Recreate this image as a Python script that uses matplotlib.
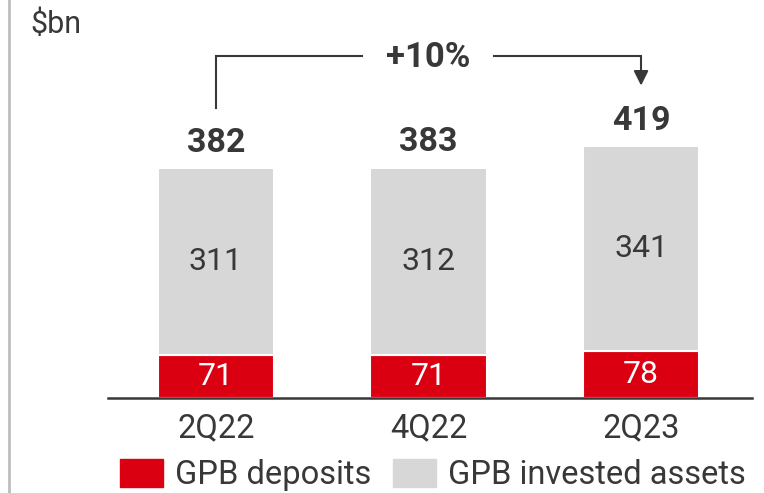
import matplotlib
matplotlib.use("Agg")
import matplotlib.pyplot as plt
from matplotlib.lines import Line2D
from matplotlib.patches import Patch
import numpy as np

quarters = ["2Q22", "4Q22", "2Q23"]
deposits = [71, 71, 78]
invested = [311, 312, 341]
totals = [382, 383, 419]
growth_label = "+10%"

red = "#DB0011"
grey = "#D7D7D7"
ink = "#383838"

plt.rcParams["font.family"] = ["Roboto", "DejaVu Sans"]

fig = plt.figure(figsize=(7.64, 4.93), dpi=100)
ax = fig.add_axes([108 / 764, 95 / 493, 644 / 764, 398 / 493])

x = np.arange(len(quarters))
width = 0.546
ax.bar(x, deposits, width, color=red, edgecolor="white", linewidth=1.5, label="GPB deposits")
ax.bar(x, invested, width, bottom=deposits, color=grey, edgecolor="white", linewidth=1.5,
       label="GPB invested assets")

for i in x:
    ax.text(i, deposits[i] / 2, str(deposits[i]), ha="center", va="center",
            color="white", fontsize=23)
    ax.text(i, deposits[i] + invested[i] / 2, str(invested[i]), ha="center", va="center",
            color=ink, fontsize=23)
    ax.text(i, totals[i] + 42, str(totals[i]), ha="center", va="center",
            color=ink, fontsize=24.5, fontweight="bold")

# growth bracket from first to last quarter
top = 569
ax.plot([0, 0, 0.687], [482, top, top], color=ink, lw=1.5, solid_joinstyle="miter")
ax.plot([1.308, 2, 2], [top, top, 530], color=ink, lw=1.5, solid_joinstyle="miter")
ax.annotate("", xy=(2, 515), xytext=(2, 535),
            arrowprops=dict(arrowstyle="-|>", color=ink, lw=1.5, mutation_scale=22))
ax.text(1.0, top - 3, growth_label, ha="center", va="center", color=ink, fontsize=25,
        fontweight="bold")

ax.set_xlim(-0.508, 2.522)
ax.set_ylim(0, 662)
ax.set_xticks(x)
ax.set_xticklabels(quarters, fontsize=23.5, color=ink)
ax.tick_params(axis="x", length=0, pad=10)
ax.set_yticks([])
for s in ["top", "right", "left"]:
    ax.spines[s].set_visible(False)
ax.spines["bottom"].set_color(ink)
ax.spines["bottom"].set_linewidth(1.8)

fig.text(30 / 764, 1 - 24 / 493, "$bn", fontsize=22, color=ink, va="center", ha="left")
fig.add_artist(Line2D([9 / 764, 9 / 764], [0, 1], color="#BDBDBD", lw=2))

handles = [Patch(color=red), Patch(color=grey)]
fig.legend(handles, ["GPB deposits", "GPB invested assets"], loc="center left",
           bbox_to_anchor=(120 / 764, 1 - 475 / 493), ncol=2, frameon=False,
           fontsize=23.5, handlelength=1.32, handleheight=0.95, handletextpad=0.37,
           columnspacing=0.67, borderpad=0, borderaxespad=0, labelcolor=ink)

fig.savefig("out.png", dpi=100)
